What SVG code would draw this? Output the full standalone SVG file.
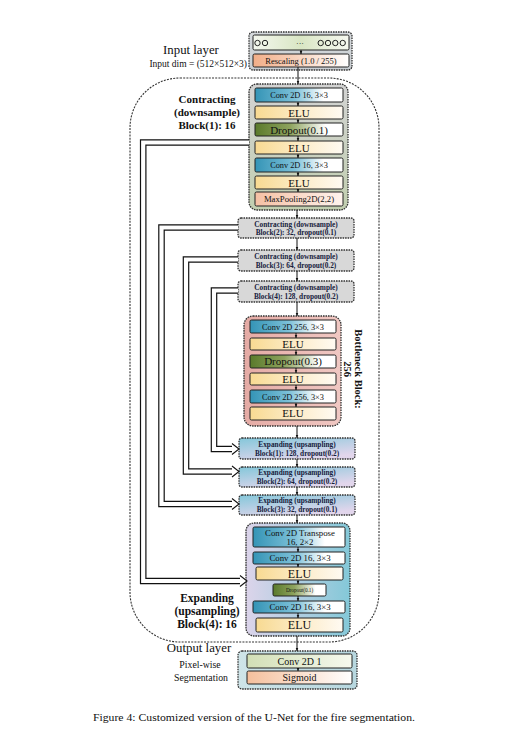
<svg xmlns="http://www.w3.org/2000/svg" width="532" height="740" viewBox="0 0 532 740">
<defs>
<linearGradient id="gConv" x1="0" y1="0" x2="1" y2="0"><stop offset="0" stop-color="#3494b6"/><stop offset="0.45" stop-color="#7cc0d8"/><stop offset="0.78" stop-color="#ffffff"/></linearGradient>
<linearGradient id="gELU" x1="0" y1="0" x2="1" y2="0"><stop offset="0" stop-color="#f8da92"/><stop offset="0.5" stop-color="#fcebc6"/><stop offset="1" stop-color="#fffaf2"/></linearGradient>
<linearGradient id="gDrop" x1="0" y1="0" x2="1" y2="0"><stop offset="0" stop-color="#5a7a2b"/><stop offset="0.4" stop-color="#8ea35e"/><stop offset="0.8" stop-color="#ffffff"/></linearGradient>
<linearGradient id="gPool" x1="0" y1="0" x2="1" y2="0"><stop offset="0" stop-color="#f5c0a4"/><stop offset="1" stop-color="#fff4ee"/></linearGradient>
<linearGradient id="gResc" x1="0" y1="0" x2="1" y2="0"><stop offset="0" stop-color="#f2ae88"/><stop offset="1" stop-color="#ffffff"/></linearGradient>
<linearGradient id="gRow" x1="0" y1="0" x2="1" y2="0"><stop offset="0" stop-color="#f4f7ee"/><stop offset="0.5" stop-color="#d9e6c4"/><stop offset="1" stop-color="#f6f8f0"/></linearGradient>
<linearGradient id="gIn" x1="0" y1="0" x2="0" y2="1"><stop offset="0" stop-color="#d6dadd"/><stop offset="1" stop-color="#c9ced2"/></linearGradient>
<linearGradient id="gB1" x1="0" y1="0" x2="0" y2="1"><stop offset="0" stop-color="#d3d3d3"/><stop offset="1" stop-color="#c2cfb0"/></linearGradient>
<linearGradient id="gBot" x1="0" y1="0" x2="1" y2="0"><stop offset="0" stop-color="#e5aba5"/><stop offset="1" stop-color="#f0c8c3"/></linearGradient>
<linearGradient id="gExp" x1="0" y1="0" x2="0.6" y2="1"><stop offset="0" stop-color="#84c7da"/><stop offset="1" stop-color="#e2d6ec"/></linearGradient>
<linearGradient id="gExp4" x1="0" y1="0" x2="1" y2="0"><stop offset="0" stop-color="#dcd4ea"/><stop offset="1" stop-color="#84c8d8"/></linearGradient>
<linearGradient id="gOut" x1="0" y1="0" x2="1" y2="0"><stop offset="0" stop-color="#cfe4e8"/><stop offset="1" stop-color="#b7d7df"/></linearGradient>
<linearGradient id="gC1" x1="0" y1="0" x2="1" y2="0"><stop offset="0" stop-color="#d2dfb6"/><stop offset="1" stop-color="#f6f9ee"/></linearGradient>
<linearGradient id="gSig" x1="0" y1="0" x2="1" y2="0"><stop offset="0" stop-color="#f5bf9c"/><stop offset="1" stop-color="#ffffff"/></linearGradient>
<marker id="ah" viewBox="0 0 6 6" refX="6" refY="3" markerWidth="3.5" markerHeight="3.5" markerUnits="userSpaceOnUse" orient="auto"><path d="M0,0.5 L6,3 L0,5.5z" fill="#111"/></marker>
</defs>
<style>
.frame{fill:none;stroke:#333;stroke-width:1.1;stroke-dasharray:2 1.2}
.box{stroke:#333;stroke-width:1.3;stroke-dasharray:1.6 0.9}
.lay{stroke:#222;stroke-width:1}
text{font-family:"Liberation Serif","Times New Roman",serif;fill:#111}
.c{text-anchor:middle}
.b{font-weight:bold}
.sm{font-weight:bold;font-size:7.3px;fill:#16203c}
.arr{stroke:#111;stroke-width:1;fill:none;marker-end:url(#ah)}
.so{stroke:#111;stroke-width:6.6;fill:none}
.si{stroke:#fff;stroke-width:4.2;fill:none}
.head{fill:#fff;stroke:#111;stroke-width:1.1}
</style>
<rect width="532" height="740" fill="#fff"/>

<g id="frame"><rect class="frame" x="130" y="78" width="249" height="564" rx="50"/></g>

<g id="input">
<text class="c" x="191" y="54" font-size="12.8">Input layer</text>
<text x="247" y="66.5" font-size="9.5" text-anchor="end">Input dim = (512×512×3)</text>
<rect class="box" x="249" y="32" width="103" height="38" rx="4" fill="url(#gIn)"/>
<rect class="lay" x="253" y="35" width="96" height="15" rx="1.5" fill="url(#gRow)"/>
<g fill="none" stroke="#222" stroke-width="1"><circle cx="257.5" cy="43" r="2.7"/><circle cx="265" cy="43" r="2.7"/><circle cx="320.7" cy="43" r="2.7"/><circle cx="328" cy="43" r="2.7"/><circle cx="335.3" cy="43" r="2.7"/><circle cx="342.7" cy="43" r="2.7"/></g>
<text class="c" x="300" y="46" font-size="8">···</text>
<rect class="lay" x="253" y="54" width="96" height="13" rx="1.5" fill="url(#gResc)"/>
<text class="c" x="301" y="63.5" font-size="8.5">Rescaling (1.0 / 255)</text>
</g>

<g id="contract1">
<text class="c b" x="207" y="103" font-size="11">Contracting</text>
<text class="c b" x="207" y="116" font-size="11">(downsample)</text>
<text class="c b" x="207" y="129" font-size="11">Block(1): 16</text>
<rect class="box" x="249" y="84" width="99" height="126" rx="8" fill="url(#gB1)"/>
<rect class="lay" x="255" y="88" width="88" height="14" rx="1.5" fill="url(#gConv)"/>
<text class="c" x="299" y="98" font-size="8.3">Conv 2D 16, 3×3</text>
<rect class="lay" x="255" y="106" width="88" height="13" rx="1.5" fill="url(#gELU)"/>
<text class="c" x="299" y="116.5" font-size="11">ELU</text>
<rect class="lay" x="255" y="123" width="88" height="13" rx="1.5" fill="url(#gDrop)"/>
<text class="c" x="299" y="133.5" font-size="11">Dropout(0.1)</text>
<rect class="lay" x="255" y="141" width="88" height="13" rx="1.5" fill="url(#gELU)"/>
<text class="c" x="299" y="151.5" font-size="11">ELU</text>
<rect class="lay" x="255" y="158" width="88" height="14" rx="1.5" fill="url(#gConv)"/>
<text class="c" x="299" y="168" font-size="8.3">Conv 2D 16, 3×3</text>
<rect class="lay" x="255" y="176" width="88" height="13" rx="1.5" fill="url(#gELU)"/>
<text class="c" x="299" y="186.5" font-size="11">ELU</text>
<rect class="lay" x="255" y="192" width="88" height="14" rx="1.5" fill="url(#gPool)"/>
<text class="c" x="299" y="202" font-size="8.7">MaxPooling2D(2,2)</text>
</g>

<g id="contract2">
<rect class="box" x="238" y="218" width="116" height="20" rx="3" fill="#d8d8d8"/>
<text class="c sm" x="296" y="226.5">Contracting (downsample)</text>
<text class="c sm" x="296" y="235">Block(2): 32, dropout(0.1)</text>
</g>
<g id="contract3">
<rect class="box" x="238" y="250" width="116" height="21" rx="3" fill="#d8d8d8"/>
<text class="c sm" x="296" y="258.5">Contracting (downsample)</text>
<text class="c sm" x="296" y="267.5">Block(3): 64, dropout(0.2)</text>
</g>
<g id="contract4">
<rect class="box" x="238" y="281" width="116" height="21" rx="3" fill="#d8d8d8"/>
<text class="c sm" x="296" y="289.5">Contracting (downsample)</text>
<text class="c sm" x="296" y="298.5">Block(4): 128, dropout(0.2)</text>
</g>

<g id="bottleneck">
<rect class="box" x="244" y="316" width="97" height="110" rx="9" fill="url(#gBot)"/>
<rect class="lay" x="250" y="320" width="86" height="13" rx="1.5" fill="url(#gConv)"/>
<text class="c" x="293" y="329.8" font-size="8.3">Conv 2D 256, 3×3</text>
<rect class="lay" x="250" y="338" width="86" height="12" rx="1.5" fill="url(#gELU)"/>
<text class="c" x="293" y="347.8" font-size="11">ELU</text>
<rect class="lay" x="250" y="355" width="86" height="13" rx="1.5" fill="url(#gDrop)"/>
<text class="c" x="293" y="365.3" font-size="11">Dropout(0.3)</text>
<rect class="lay" x="250" y="373" width="86" height="12" rx="1.5" fill="url(#gELU)"/>
<text class="c" x="293" y="382.8" font-size="11">ELU</text>
<rect class="lay" x="250" y="390" width="86" height="13" rx="1.5" fill="url(#gConv)"/>
<text class="c" x="293" y="399.8" font-size="8.3">Conv 2D 256, 3×3</text>
<rect class="lay" x="250" y="407" width="86" height="13" rx="1.5" fill="url(#gELU)"/>
<text class="c" x="293" y="417.3" font-size="11">ELU</text>
<g transform="translate(355,369) rotate(90)">
<text class="c b" x="0" y="0" font-size="10.5">Bottleneck Block:</text>
<text class="c b" x="0" y="11.5" font-size="10.5">256</text>
</g>
</g>

<g id="expand1">
<rect class="box" x="239" y="438" width="116" height="21" rx="3" fill="url(#gExp)"/>
<text class="c sm" x="297" y="446.5">Expanding (upsampling)</text>
<text class="c sm" x="297" y="455.5">Block(1): 128, dropout(0.2)</text>
</g>
<g id="expand2">
<rect class="box" x="239" y="467" width="116" height="20" rx="3" fill="url(#gExp)"/>
<text class="c sm" x="297" y="475">Expanding (upsampling)</text>
<text class="c sm" x="297" y="484">Block(2): 64, dropout(0.2)</text>
</g>
<g id="expand3">
<rect class="box" x="239" y="495" width="116" height="20" rx="3" fill="url(#gExp)"/>
<text class="c sm" x="297" y="503">Expanding (upsampling)</text>
<text class="c sm" x="297" y="512">Block(3): 32, dropout(0.1)</text>
</g>

<g id="expand4">
<text class="c b" x="207" y="602" font-size="11.5">Expanding</text>
<text class="c b" x="207" y="615" font-size="11.5">(upsampling)</text>
<text class="c b" x="207" y="627.5" font-size="11.5">Block(4): 16</text>
<rect class="box" x="246" y="523" width="104" height="113" rx="8" fill="url(#gExp4)"/>
<rect class="lay" x="253" y="527" width="92" height="20" rx="1.5" fill="url(#gConv)"/>
<text class="c" x="300" y="535.5" font-size="8.8">Conv 2D Transpose</text>
<text class="c" x="300" y="544.5" font-size="8.8">16, 2×2</text>
<rect class="lay" x="253" y="552" width="92" height="12" rx="1.5" fill="url(#gConv)"/>
<text class="c" x="300" y="561" font-size="8.8">Conv 2D 16, 3×3</text>
<rect class="lay" x="256" y="567" width="87" height="13" rx="1.5" fill="url(#gELU)"/>
<text class="c" x="299.5" y="577.5" font-size="12">ELU</text>
<rect class="lay" x="273" y="584" width="53" height="12" rx="1.5" fill="url(#gDrop)"/>
<text class="c" x="299.5" y="592.2" font-size="5.2">Dropout(0.1)</text>
<rect class="lay" x="253" y="601" width="92" height="12" rx="1.5" fill="url(#gConv)"/>
<text class="c" x="300" y="610" font-size="8.8">Conv 2D 16, 3×3</text>
<rect class="lay" x="256" y="618" width="87" height="14" rx="1.5" fill="url(#gELU)"/>
<text class="c" x="299.5" y="629" font-size="12">ELU</text>
</g>

<g id="output">
<text class="c" x="199" y="651.5" font-size="12.8">Output layer</text>
<text class="c" x="200" y="668" font-size="9.8">Pixel-wise</text>
<text class="c" x="201" y="681" font-size="9.8">Segmentation</text>
<rect class="box" x="238" y="651" width="119" height="38" rx="4" fill="url(#gOut)"/>
<rect class="lay" x="247" y="654" width="105" height="14" rx="1.5" fill="url(#gC1)"/>
<text class="c" x="299.5" y="664.5" font-size="10">Conv 2D 1</text>
<rect class="lay" x="247" y="671" width="105" height="13" rx="1.5" fill="url(#gSig)"/>
<text class="c" x="299.5" y="681" font-size="10">Sigmoid</text>
</g>

<g id="connectors">
<path class="arr" d="M301,50 V54"/>
<path class="arr" d="M298,67 V84"/>
<path class="arr" d="M298,102 V106"/>
<path class="arr" d="M298,119 V123"/>
<path class="arr" d="M298,136 V141"/>
<path class="arr" d="M298,154 V158"/>
<path class="arr" d="M298,172 V176"/>
<path class="arr" d="M298,189 V192"/>
<path class="arr" d="M297,210 V218"/>
<path class="arr" d="M297,238 V250"/>
<path class="arr" d="M297,271 V281"/>
<path class="arr" d="M297,302 V316"/>
<path class="arr" d="M296,333 V338"/>
<path class="arr" d="M296,350 V355"/>
<path class="arr" d="M296,368 V373"/>
<path class="arr" d="M296,385 V390"/>
<path class="arr" d="M296,403 V407"/>
<path class="arr" d="M297,426 V438"/>
<path class="arr" d="M297,459 V467"/>
<path class="arr" d="M297,487 V495"/>
<path class="arr" d="M297,515 V523"/>
<path class="arr" d="M298,547 V552"/>
<path class="arr" d="M298,564 V567"/>
<path class="arr" d="M298,580 V584"/>
<path class="arr" d="M298,596 V601"/>
<path class="arr" d="M298,613 V618"/>
<path class="arr" d="M297,636 V651"/>
<path class="arr" d="M298,668 V671"/>
<g id="skips">
<path class="so" d="M249,142.5 H143.2 V581 H243"/>
<path class="si" d="M249,142.5 H143.2 V581 H243"/>
<path class="head" d="M240,575.5 L247,581 L240,586.5"/>
<path class="so" d="M238,227.5 H161.5 V504 H235"/>
<path class="si" d="M238,227.5 H161.5 V504 H235"/>
<path class="head" d="M232,498.5 L239,504 L232,509.5"/>
<path class="so" d="M238,259.5 H186 V471.5 H235"/>
<path class="si" d="M238,259.5 H186 V471.5 H235"/>
<path class="head" d="M232,466 L239,471.5 L232,477"/>
<path class="so" d="M238,290.5 H214 V449 H235"/>
<path class="si" d="M238,290.5 H214 V449 H235"/>
<path class="head" d="M232,443.5 L239,449 L232,454.5"/>
</g>
</g>

<g id="caption">
<text x="93" y="721" font-size="10" textLength="322" lengthAdjust="spacingAndGlyphs">Figure 4: Customized version of the U-Net for the fire segmentation.</text>
</g>
</svg>
